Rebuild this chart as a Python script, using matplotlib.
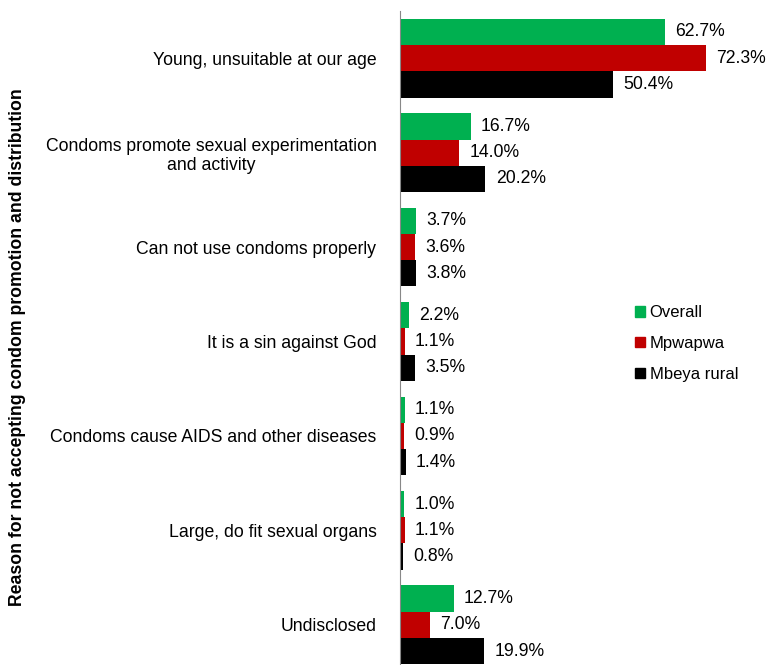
import numpy as np
import matplotlib.pyplot as plt
from matplotlib.patches import Patch

plt.rcParams['font.family'] = ['Liberation Sans', 'DejaVu Sans']

categories = [
    "Young, unsuitable at our age",
    "Condoms promote sexual experimentation\nand activity",
    "Can not use condoms properly",
    "It is a sin against God",
    "Condoms cause AIDS and other diseases",
    "Large, do fit sexual organs",
    "Undisclosed",
]
series = ["Overall", "Mpwapwa", "Mbeya rural"]
overall = [62.7, 16.7, 3.7, 2.2, 1.1, 1.0, 12.7]
mpwapwa = [72.3, 14.0, 3.6, 1.1, 0.9, 1.1, 7.0]
mbeya = [50.4, 20.2, 3.8, 3.5, 1.4, 0.8, 19.9]
colors = ["#00b050", "#c00000", "#000000"]

fs = 12.7
fig = plt.figure(figsize=(7.66, 6.65), dpi=100)
# axes runs a bit below the bottom edge, as in the source
ax = fig.add_axes([400 / 766, -7 / 665, 1 - 400 / 766, (665 + 7 - 11) / 665])

y = np.arange(len(categories))
h = 0.278
for k, (vals, c) in enumerate(zip([overall, mpwapwa, mbeya], colors)):
    pos = y + (k - 1) * h
    ax.barh(pos, vals, height=h, color=c, edgecolor='none')
    for p, v in zip(pos, vals):
        ax.text(v + 2.4, p, f"{v:.1f}%", va='center', ha='left', fontsize=fs)

ax.set_xlim(0, 86.5)
ax.set_ylim(len(categories) - 0.5, -0.5)
ax.set_yticks(y)
ax.set_yticklabels(categories, fontsize=fs, ha='right', multialignment='center',
                   linespacing=1.15)
ax.tick_params(axis='y', length=0, pad=17)
ax.set_xticks([])
for s in ['top', 'right', 'bottom']:
    ax.spines[s].set_visible(False)
ax.spines['left'].set_color('#888888')

fig.text(18 / 766, 1 - 347 / 665, "Reason for not accepting condom promotion and distribution",
         rotation=90, va='center', ha='center', fontsize=fs, fontweight='bold')

handles = [Patch(color=c) for c in colors]
ax.legend(handles, series, loc='center left', bbox_to_anchor=(0.60, 0.497),
          frameon=False, fontsize=12, handlelength=0.6, handleheight=0.6,
          handletextpad=0.3, labelspacing=0.95)

fig.savefig("out.png", dpi=100)
